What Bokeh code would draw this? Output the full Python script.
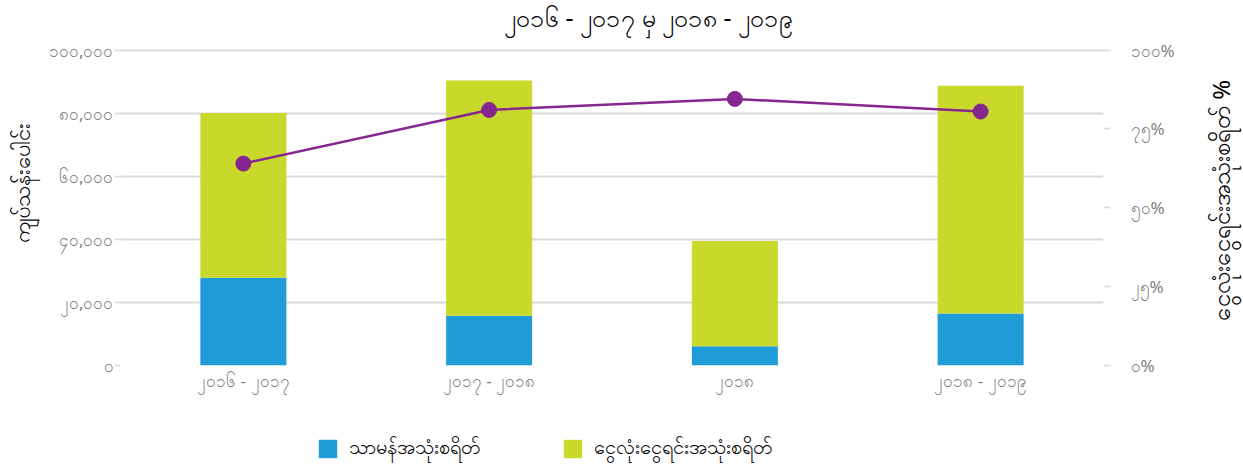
from math import pi
from bokeh.plotting import figure
from bokeh.layouts import column, row
from bokeh.models import (FactorRange, Range1d, LinearAxis, FixedTicker, Label,
                          Legend, LegendItem, ColumnDataSource)
from bokeh.embed import file_html
from bokeh.resources import INLINE

# ---------------- data ----------------
title_text = "၂၀၁၆ - ၂၀၁၇ မှ ၂၀၁၈ - ၂၀၁၉"
categories = ["၂၀၁၆ - ၂၀၁၇", "၂၀၁၇ - ၂၀၁၈", "၂၀၁၈", "၂၀၁၈ - ၂၀၁၉"]
recurrent = [27800, 15800, 6100, 16500]
capital = [52200, 74500, 33400, 72150]
capital_share = [64.0, 81.0, 84.5, 80.5]
series_names = ["သာမန်အသုံးစရိတ်", "ငွေလုံးငွေရင်းအသုံးစရိတ်"]
left_ticks = [0, 20000, 40000, 60000, 80000, 100000]
left_tick_labels = ["၀", "၂၀,၀၀၀", "၄၀,၀၀၀", "၆၀,၀၀၀", "၈၀,၀၀၀", "၁၀၀,၀၀၀"]
right_ticks = [0, 25, 50, 75, 100]
right_tick_labels = ["၀%", "၂၅%", "၅၀%", "၇၅%", "၁၀၀%"]
left_label = "ကျပ်သန်းပေါင်း"
right_label = "ငွေလုံးငွေရင်းအသုံးစရိတ် %"

BLUE = "#1f9bd7"
GREEN = "#c8d92b"
PURPLE = "#86268f"
GRID = "#d9d9d9"
TICK_TXT = "#7f7f7f"
FONT = "Noto Sans"
W = 1243
SIDE_W = 53                  # strip on the far right holding the right-hand title
ML = 120
FRAME_RIGHT = 1103
PLOT_H = 420
FRAME_BOTTOM = 365           # px from top of the chart canvas
AXIS_TOP_PX = 49.5           # where 100,000 / 100% sit
HEAD = FRAME_BOTTOM / (FRAME_BOTTOM - AXIS_TOP_PX)

# ---------- main chart ----------
src = ColumnDataSource(dict(cat=categories, recurrent=recurrent, capital=capital,
                            share=capital_share))

PW = W - SIDE_W
p = figure(width=PW, height=PLOT_H, x_range=FactorRange(*categories),
           y_range=Range1d(0, max(left_ticks) * HEAD), output_backend="svg",
           toolbar_location=None, min_border_left=ML, min_border_right=PW - FRAME_RIGHT,
           min_border_top=0, min_border_bottom=PLOT_H - FRAME_BOTTOM)
p.outline_line_color = None

bars = p.vbar_stack(["recurrent", "capital"], x="cat", width=0.35,
                    color=[BLUE, GREEN], source=src, line_width=0)

p.extra_y_ranges = {"pct": Range1d(0, max(right_ticks) * HEAD)}
p.line(x="cat", y="share", source=src, y_range_name="pct", color=PURPLE, line_width=2.5)
p.scatter(x="cat", y="share", source=src, y_range_name="pct", color=PURPLE, size=15)

# title inside the (extended) plot area
p.add_layout(Label(x=648 - ML, y=FRAME_BOTTOM - 16, x_units="screen", y_units="screen",
                   text=title_text, text_align="center", text_baseline="middle",
                   text_font=FONT, text_font_size="25px", text_color="black"))

p.xgrid.grid_line_color = None
p.ygrid.grid_line_color = GRID
p.ygrid.grid_line_width = 2
p.ygrid.ticker = FixedTicker(ticks=left_ticks)

ya = p.yaxis[0]
ya.ticker = FixedTicker(ticks=left_ticks)
ya.major_label_overrides = {t: l for t, l in zip(left_ticks, left_tick_labels)}
ya.axis_line_color = None
ya.major_tick_in = 0
ya.major_tick_out = 6
ya.major_tick_line_color = GRID
ya.major_tick_line_width = 1.5
ya.minor_tick_line_color = None
ya.major_label_text_color = TICK_TXT
ya.major_label_text_font = FONT
ya.major_label_text_font_size = "17px"
ya.major_label_standoff = 1
ya.axis_label = left_label
ya.axis_label_text_font = FONT
ya.axis_label_text_font_size = "22px"
ya.axis_label_text_font_style = "normal"
ya.axis_label_text_color = "black"
ya.axis_label_standoff = 10

ra = LinearAxis(y_range_name="pct", ticker=FixedTicker(ticks=right_ticks))
ra.major_label_overrides = {t: l for t, l in zip(right_ticks, right_tick_labels)}
ra.axis_line_color = None
ra.major_tick_in = 0
ra.major_tick_out = 7
ra.major_tick_line_color = GRID
ra.major_tick_line_width = 1.5
ra.minor_tick_line_color = None
ra.major_label_text_color = TICK_TXT
ra.major_label_text_font = FONT
ra.major_label_text_font_size = "17px"
ra.major_label_standoff = 20
p.add_layout(ra, "right")

xa = p.xaxis[0]
xa.axis_line_color = None
xa.major_tick_line_color = None
xa.minor_tick_line_color = None
xa.major_label_text_color = TICK_TXT
xa.major_label_text_font = FONT
xa.major_label_text_font_size = "17px"
xa.major_label_standoff = -3

# ---------- right-hand axis title strip (reads bottom to top) ----------
side = figure(width=SIDE_W, height=PLOT_H, x_range=Range1d(0, 1), y_range=Range1d(0, 1),
              output_backend="svg", toolbar_location=None, x_axis_type=None,
              y_axis_type=None, min_border=0, min_border_bottom=PLOT_H - FRAME_BOTTOM)
side.outline_line_color = None
side.grid.visible = False
side.add_layout(Label(x=1220 - PW, y=FRAME_BOTTOM - 200, x_units="screen",
                      y_units="screen", text=right_label, angle=pi / 2,
                      text_align="center", text_baseline="middle", text_font=FONT,
                      text_font_size="24px", text_color="black"))

# ---------- legend strip ----------
lp = figure(width=W, height=470 - PLOT_H, x_range=Range1d(0, 1), y_range=Range1d(0, 1),
            output_backend="svg", toolbar_location=None, x_axis_type=None,
            y_axis_type=None, min_border=0, min_border_left=ML,
            min_border_right=W - FRAME_RIGHT)
lp.outline_line_color = None
lp.grid.visible = False
swatches = [lp.vbar(x=[-5], top=[-5], bottom=[-6], width=0.1, color=c, line_width=0)
            for c in (BLUE, GREEN)]
for name, r, xpos in zip(series_names, swatches, [196, 441]):
    lg = Legend(items=[LegendItem(label=name, renderers=[r])], location=(xpos, 6),
                orientation="horizontal", glyph_width=23, glyph_height=23,
                label_standoff=10, padding=0, margin=0, border_line_alpha=0,
                background_fill_alpha=0, label_text_font=FONT,
                label_text_font_size="20px", label_text_color="black")
    lp.add_layout(lg, "center")

layout = column(row(p, side, spacing=0), lp, spacing=0)
open("out.html", "w").write(file_html(layout, INLINE))
